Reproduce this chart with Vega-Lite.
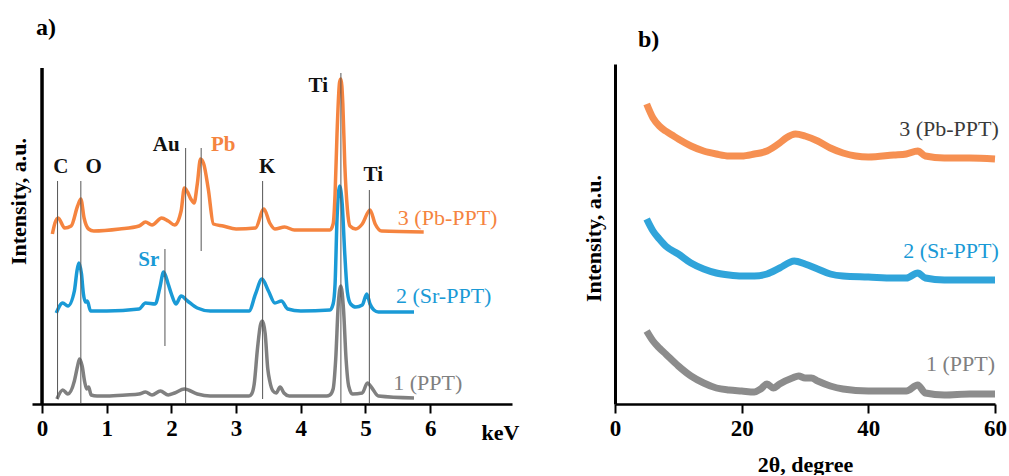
{
  "$schema": "https://vega.github.io/schema/vega-lite/v6.json",
  "padding": {"left": 7, "top": 16, "right": 0, "bottom": 0},
  "config": {"view": {"stroke": null}, "font": "Liberation Serif", "legend": {"disable": true}},
  "spacing": 63,
  "datasets": {
    "eds": [
      {"s":"1","k":0.23,"v":5},{"s":"1","k":0.32,"v":14},{"s":"1","k":0.4,"v":10},{"s":"1","k":0.5,"v":23},{"s":"1","k":0.55,"v":38},{"s":"1","k":0.58,"v":45},{"s":"1","k":0.62,"v":38},{"s":"1","k":0.66,"v":22},{"s":"1","k":0.69,"v":15},{"s":"1","k":0.72,"v":17},{"s":"1","k":0.76,"v":9},{"s":"1","k":0.85,"v":8},{"s":"1","k":1.0,"v":8},{"s":"1","k":1.3,"v":9},{"s":"1","k":1.5,"v":10},{"s":"1","k":1.6,"v":12},{"s":"1","k":1.7,"v":9},{"s":"1","k":1.83,"v":13},{"s":"1","k":1.95,"v":9},{"s":"1","k":2.05,"v":11},{"s":"1","k":2.2,"v":15},{"s":"1","k":2.4,"v":10},{"s":"1","k":2.6,"v":8},{"s":"1","k":3.2,"v":8},{"s":"1","k":3.24,"v":10},{"s":"1","k":3.28,"v":20},{"s":"1","k":3.33,"v":55},{"s":"1","k":3.38,"v":80},{"s":"1","k":3.41,"v":83},{"s":"1","k":3.45,"v":70},{"s":"1","k":3.49,"v":35},{"s":"1","k":3.52,"v":23},{"s":"1","k":3.57,"v":13},{"s":"1","k":3.62,"v":11},{"s":"1","k":3.68,"v":17},{"s":"1","k":3.74,"v":11},{"s":"1","k":3.82,"v":8},{"s":"1","k":4.4,"v":8},{"s":"1","k":4.45,"v":9},{"s":"1","k":4.5,"v":15},{"s":"1","k":4.54,"v":45},{"s":"1","k":4.58,"v":100},{"s":"1","k":4.62,"v":118},{"s":"1","k":4.66,"v":95},{"s":"1","k":4.7,"v":45},{"s":"1","k":4.74,"v":18},{"s":"1","k":4.8,"v":10},{"s":"1","k":4.95,"v":11},{"s":"1","k":5.03,"v":21},{"s":"1","k":5.1,"v":16},{"s":"1","k":5.2,"v":8},{"s":"1","k":5.75,"v":6},
      {"s":"2","k":0.22,"v":91},{"s":"2","k":0.32,"v":101},{"s":"2","k":0.4,"v":98},{"s":"2","k":0.5,"v":113},{"s":"2","k":0.54,"v":133},{"s":"2","k":0.57,"v":141},{"s":"2","k":0.61,"v":130},{"s":"2","k":0.64,"v":110},{"s":"2","k":0.67,"v":102},{"s":"2","k":0.7,"v":103},{"s":"2","k":0.75,"v":93},{"s":"2","k":1.0,"v":93},{"s":"2","k":1.5,"v":95},{"s":"2","k":1.6,"v":101},{"s":"2","k":1.75,"v":100},{"s":"2","k":1.82,"v":116},{"s":"2","k":1.88,"v":132},{"s":"2","k":1.95,"v":120},{"s":"2","k":2.0,"v":110},{"s":"2","k":2.07,"v":100},{"s":"2","k":2.15,"v":108},{"s":"2","k":2.25,"v":103},{"s":"2","k":2.4,"v":96},{"s":"2","k":2.6,"v":93},{"s":"2","k":3.2,"v":93},{"s":"2","k":3.3,"v":110},{"s":"2","k":3.4,"v":125},{"s":"2","k":3.5,"v":113},{"s":"2","k":3.6,"v":101},{"s":"2","k":3.7,"v":103},{"s":"2","k":3.8,"v":95},{"s":"2","k":4.0,"v":93},{"s":"2","k":4.45,"v":94},{"s":"2","k":4.5,"v":100},{"s":"2","k":4.53,"v":120},{"s":"2","k":4.56,"v":185},{"s":"2","k":4.6,"v":218},{"s":"2","k":4.64,"v":200},{"s":"2","k":4.68,"v":150},{"s":"2","k":4.72,"v":112},{"s":"2","k":4.77,"v":100},{"s":"2","k":4.85,"v":97},{"s":"2","k":4.95,"v":99},{"s":"2","k":5.02,"v":110},{"s":"2","k":5.07,"v":100},{"s":"2","k":5.13,"v":94},{"s":"2","k":5.2,"v":92},{"s":"2","k":5.75,"v":92},
      {"s":"3","k":0.16,"v":170},{"s":"3","k":0.2,"v":181},{"s":"3","k":0.25,"v":186},{"s":"3","k":0.35,"v":176},{"s":"3","k":0.45,"v":178},{"s":"3","k":0.55,"v":198},{"s":"3","k":0.6,"v":205},{"s":"3","k":0.65,"v":186},{"s":"3","k":0.72,"v":175},{"s":"3","k":0.8,"v":173},{"s":"3","k":1.2,"v":175},{"s":"3","k":1.5,"v":178},{"s":"3","k":1.6,"v":182},{"s":"3","k":1.7,"v":179},{"s":"3","k":1.85,"v":186},{"s":"3","k":1.95,"v":183},{"s":"3","k":2.05,"v":179},{"s":"3","k":2.15,"v":193},{"s":"3","k":2.2,"v":216},{"s":"3","k":2.25,"v":212},{"s":"3","k":2.3,"v":205},{"s":"3","k":2.35,"v":201},{"s":"3","k":2.4,"v":220},{"s":"3","k":2.45,"v":245},{"s":"3","k":2.5,"v":240},{"s":"3","k":2.57,"v":215},{"s":"3","k":2.65,"v":180},{"s":"3","k":2.8,"v":178},{"s":"3","k":3.0,"v":175},{"s":"3","k":3.3,"v":176},{"s":"3","k":3.43,"v":195},{"s":"3","k":3.52,"v":181},{"s":"3","k":3.6,"v":175},{"s":"3","k":3.75,"v":177},{"s":"3","k":3.9,"v":174},{"s":"3","k":4.45,"v":174},{"s":"3","k":4.5,"v":180},{"s":"3","k":4.53,"v":210},{"s":"3","k":4.56,"v":270},{"s":"3","k":4.6,"v":322},{"s":"3","k":4.62,"v":325},{"s":"3","k":4.65,"v":300},{"s":"3","k":4.68,"v":240},{"s":"3","k":4.72,"v":195},{"s":"3","k":4.76,"v":178},{"s":"3","k":4.85,"v":175},{"s":"3","k":4.95,"v":180},{"s":"3","k":5.07,"v":194},{"s":"3","k":5.15,"v":180},{"s":"3","k":5.25,"v":173},{"s":"3","k":5.9,"v":172}
    ],
    "marks": [
      {"k":0.24,"v":5,"v2":223},{"k":0.6,"v":1,"v2":223},{"k":2.22,"v":1,"v2":256},{"k":2.46,"v":153,"v2":256},{"k":1.9,"v":58,"v2":155},{"k":3.41,"v":5,"v2":223},{"k":4.62,"v":1,"v2":331},{"k":5.06,"v":1,"v2":214}
    ],
    "elements": [
      {"t":"C","k":0.29,"v":237,"s":"e"},{"t":"O","k":0.8,"v":237,"s":"e"},{"t":"Au","k":1.92,"v":259,"s":"e"},{"t":"Pb","k":2.8,"v":259,"s":"3"},{"t":"Sr","k":1.65,"v":144,"s":"2"},{"t":"K","k":3.48,"v":237,"s":"e"},{"t":"Ti","k":4.27,"v":318,"s":"e"},{"t":"Ti","k":5.12,"v":229,"s":"e"}
    ],
    "labelsA": [
      {"t":"3 (Pb-PPT)","k":5.5,"v":186,"s":"3"},{"t":"2 (Sr-PPT)","k":5.47,"v":108,"s":"2"},{"t":"1 (PPT)","k":5.43,"v":21,"s":"1"}
    ],
    "xrd": [
      {"s":"3","d":5,"v":300},{"s":"3","d":6,"v":286},{"s":"3","d":7,"v":278},{"s":"3","d":8,"v":273},{"s":"3","d":9,"v":269},{"s":"3","d":10,"v":265},{"s":"3","d":12,"v":258},{"s":"3","d":14,"v":253},{"s":"3","d":16,"v":250},{"s":"3","d":18,"v":248},{"s":"3","d":20,"v":248},{"s":"3","d":22,"v":250},{"s":"3","d":24,"v":253},{"s":"3","d":26,"v":261},{"s":"3","d":27,"v":266},{"s":"3","d":28.5,"v":270},{"s":"3","d":30,"v":268},{"s":"3","d":32,"v":263},{"s":"3","d":34,"v":256},{"s":"3","d":36,"v":251},{"s":"3","d":38,"v":248},{"s":"3","d":40,"v":247},{"s":"3","d":44,"v":249},{"s":"3","d":46,"v":250},{"s":"3","d":47.8,"v":253},{"s":"3","d":49,"v":248},{"s":"3","d":52,"v":246},{"s":"3","d":56,"v":246},{"s":"3","d":60,"v":245},
      {"s":"2","d":5,"v":185},{"s":"2","d":6,"v":173},{"s":"2","d":7,"v":165},{"s":"2","d":8,"v":158},{"s":"2","d":10,"v":150},{"s":"2","d":12,"v":141},{"s":"2","d":14,"v":135},{"s":"2","d":16,"v":131},{"s":"2","d":18,"v":129},{"s":"2","d":20,"v":128},{"s":"2","d":22,"v":128},{"s":"2","d":24,"v":130},{"s":"2","d":26,"v":136},{"s":"2","d":28.3,"v":143},{"s":"2","d":30,"v":140},{"s":"2","d":32,"v":135},{"s":"2","d":34,"v":130},{"s":"2","d":36,"v":128},{"s":"2","d":40,"v":127},{"s":"2","d":44,"v":126},{"s":"2","d":46,"v":126},{"s":"2","d":47.8,"v":131},{"s":"2","d":49,"v":126},{"s":"2","d":52,"v":124},{"s":"2","d":56,"v":124},{"s":"2","d":60,"v":124},
      {"s":"1","d":5,"v":73},{"s":"1","d":6,"v":63},{"s":"1","d":7,"v":56},{"s":"1","d":8,"v":50},{"s":"1","d":10,"v":38},{"s":"1","d":12,"v":28},{"s":"1","d":14,"v":21},{"s":"1","d":16,"v":16},{"s":"1","d":18,"v":14},{"s":"1","d":20,"v":13},{"s":"1","d":22,"v":12},{"s":"1","d":23,"v":15},{"s":"1","d":24,"v":20},{"s":"1","d":25,"v":16},{"s":"1","d":26,"v":20},{"s":"1","d":28,"v":26},{"s":"1","d":29,"v":28},{"s":"1","d":30,"v":26},{"s":"1","d":31,"v":26},{"s":"1","d":32,"v":23},{"s":"1","d":34,"v":18},{"s":"1","d":36,"v":15},{"s":"1","d":40,"v":13},{"s":"1","d":44,"v":13},{"s":"1","d":46,"v":13},{"s":"1","d":47.8,"v":19},{"s":"1","d":49,"v":11},{"s":"1","d":52,"v":9},{"s":"1","d":56,"v":10},{"s":"1","d":60,"v":10}
    ],
    "labelsB": [
      {"t":"3 (Pb-PPT)","d":60.6,"v":275,"s":"3"},{"t":"2 (Sr-PPT)","d":60.6,"v":153,"s":"2"},{"t":"1 (PPT)","d":60.0,"v":40,"s":"1"}
    ]
  },
  "hconcat": [
    {
      "width": 480,
      "height": 340,
      "title": {"text": "a)", "anchor": "start", "frame": "group", "fontSize": 24, "fontWeight": "bold", "font": "Liberation Serif", "color": "#000", "dx": 4, "offset": 24},
      "encoding": {
        "x": {"field": "k", "type": "quantitative", "scale": {"domain": [-0.155, 7.265], "nice": false, "zero": false},
          "axis": {"values": [0,1,2,3,4,5,6], "grid": false, "domainColor": "#000", "domainWidth": 2.5, "tickColor": "#000", "tickWidth": 2, "tickSize": 9, "labelFont": "Liberation Serif", "labelFontSize": 23, "labelFontWeight": "bold", "labelColor": "#000", "labelPadding": 4, "labelFlush": false, "labelOverlap": false,
            "title": "keV", "titleFont": "Liberation Serif", "titleFontSize": 22, "titleFontWeight": "bold", "titleColor": "#000", "titleX": 468, "titleY": 28, "titleAlign": "center", "titleBaseline": "middle"}},
        "y": {"field": "v", "type": "quantitative", "scale": {"domain": [0, 340], "nice": false},
          "axis": {"domain": false, "ticks": false, "labels": false, "grid": false, "title": "Intensity, a.u.", "titleFont": "Liberation Serif", "titleFontSize": 22, "titleFontWeight": "bold", "titleColor": "#000", "titleX": -14, "titleY": 137, "titleAngle": -90, "titleAlign": "center", "titleBaseline": "middle"}}
      },
      "layer": [
        {"data": {"name": "eds"}, "mark": {"type": "line", "strokeWidth": 3.5, "interpolate": "monotone"},
          "encoding": {"color": {"field": "s", "type": "nominal", "scale": {"domain": ["1","2","3","e"], "range": ["#808080","#1a9ad6","#f5843f","#111111"]}, "legend": null}}},
        {"data": {"name": "marks"}, "mark": {"type": "rule", "strokeWidth": 1, "color": "#555555"},
          "encoding": {"y2": {"field": "v2"}}},
        {"data": {"values": [{"k": 0, "v": 0, "v2": 336}]}, "mark": {"type": "rule", "strokeWidth": 3.5, "color": "#000000"},
          "encoding": {"y2": {"field": "v2"}}},
        {"data": {"name": "elements"}, "mark": {"type": "text", "fontSize": 21, "fontWeight": "bold", "font": "Liberation Serif", "baseline": "middle", "align": "center"},
          "encoding": {"text": {"field": "t"}, "color": {"field": "s", "type": "nominal", "legend": null}}},
        {"data": {"name": "labelsA"}, "mark": {"type": "text", "fontSize": 22, "font": "Liberation Serif", "baseline": "middle", "align": "left"},
          "encoding": {"text": {"field": "t"}, "color": {"field": "s", "type": "nominal", "legend": null}}}
      ]
    },
    {
      "width": 380,
      "height": 340,
      "title": {"text": "b)", "anchor": "start", "frame": "group", "fontSize": 24, "fontWeight": "bold", "font": "Liberation Serif", "color": "#000", "dx": 23, "offset": 12},
      "encoding": {
        "x": {"field": "d", "type": "quantitative", "scale": {"domain": [0, 60], "nice": false},
          "axis": {"values": [0,20,40,60], "grid": false, "domainColor": "#000", "domainWidth": 2.5, "tickColor": "#000", "tickWidth": 2, "tickSize": 9, "labelFont": "Liberation Serif", "labelFontSize": 23, "labelFontWeight": "bold", "labelColor": "#000", "labelPadding": 4, "labelFlush": false, "labelOverlap": false,
            "title": "2θ, degree", "titleFont": "Liberation Serif", "titleFontSize": 22, "titleFontWeight": "bold", "titleColor": "#000", "titleX": 190, "titleY": 60, "titleAlign": "center", "titleBaseline": "middle"}},
        "y": {"field": "v", "type": "quantitative", "scale": {"domain": [0, 340], "nice": false},
          "axis": {"domain": true, "domainColor": "#000", "domainWidth": 3, "ticks": false, "labels": false, "grid": false, "title": "Intensity, a.u.", "titleFont": "Liberation Serif", "titleFontSize": 22, "titleFontWeight": "bold", "titleColor": "#000", "titleX": -22, "titleY": 174, "titleAngle": -90, "titleAlign": "center", "titleBaseline": "middle"}}
      },
      "layer": [
        {"data": {"name": "xrd"}, "mark": {"type": "line", "strokeWidth": 7, "interpolate": "monotone", "opacity": 0.9},
          "encoding": {"color": {"field": "s", "type": "nominal", "legend": null}}},
        {"data": {"name": "labelsB"}, "transform": [{"filter": "datum.s != '3'"}], "mark": {"type": "text", "fontSize": 22, "font": "Liberation Serif", "baseline": "middle", "align": "right"},
          "encoding": {"text": {"field": "t"}, "color": {"field": "s", "type": "nominal", "legend": null}}},
        {"data": {"name": "labelsB"}, "transform": [{"filter": "datum.s == '3'"}], "mark": {"type": "text", "fontSize": 22, "font": "Liberation Serif", "baseline": "middle", "align": "right", "color": "#3a3a3a"},
          "encoding": {"text": {"field": "t"}}}
      ]
    }
  ]
}
